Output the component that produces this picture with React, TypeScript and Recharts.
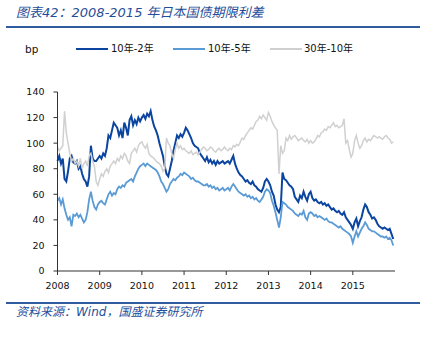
import { LineChart, Line, XAxis, YAxis } from "recharts";

// semi-monthly readings, 24 per year, 2008-2015
const years = [2008, 2009, 2010, 2011, 2012, 2013, 2014, 2015];

const spread10y2y = [
  86, 90, 84, 88, 72, 70, 78, 88, 90, 85, 84, 86, 80, 82, 76, 72, 70, 66, 74, 98, 88, 86, 86, 88,
  90, 88, 92, 90, 96, 106, 104, 110, 116, 114, 112, 106, 110, 104, 116, 112, 106, 118, 121, 114, 118, 115, 120, 117,
  120, 122, 119, 123, 121, 125, 118, 113, 110, 106, 100, 95, 90, 82, 76, 74, 80, 86, 94, 100, 106, 104, 107, 105,
  108, 112, 110, 107, 104, 100, 98, 97, 96, 92, 90, 88, 86, 89, 85, 87, 84, 86, 83, 86, 84, 85, 86, 84,
  85, 86, 84, 87, 90, 84, 80, 77, 75, 74, 72, 70, 71, 69, 68, 70, 67, 66, 64, 63, 62, 65, 70, 72,
  70, 67, 62, 59, 52, 48, 46, 50, 77, 72, 71, 69, 67, 66, 64, 58, 56, 54, 59, 57, 62, 58, 55, 60,
  62, 57, 55, 56, 54, 53, 54, 52, 53, 51, 52, 50, 48, 49, 47, 46, 47, 45, 44, 46, 42, 40, 38, 36,
  33, 38, 41, 35, 39, 42, 48, 52, 50, 46, 44, 41, 42, 40, 37, 35, 34, 33, 34, 33, 32, 33, 29, 25,
];

const spread10y5y = [
  55, 57, 52, 56, 49, 44, 40, 42, 35, 44, 43, 45, 42, 44, 41, 38, 40, 46, 56, 62, 55, 50, 48, 52,
  54, 55, 53, 52, 56, 60, 62, 59, 61, 60, 64, 66, 65, 67, 66, 69, 70, 71, 72, 70, 74, 77, 80, 82,
  83, 84, 82, 84, 83, 82, 81, 80, 79, 77, 74, 70, 68, 65, 62, 64, 68, 70, 72, 71, 73, 74, 76, 75,
  77, 76, 75, 74, 72, 73, 71, 70, 70, 69, 68, 67, 67, 68, 66, 67, 65, 66, 64, 65, 63, 64, 65, 63,
  64, 65, 63, 66, 68, 66, 64, 62, 61, 60, 59, 60, 58, 59, 57, 58, 56, 57, 55, 54, 56, 58, 62, 64,
  63, 61, 55, 51, 46, 40, 34, 42, 54, 53, 52, 50, 49, 48, 47, 45, 44, 43, 45, 44, 47, 42, 40, 45,
  46, 45, 43, 44, 42, 43, 42, 41, 40, 41, 39, 38, 38, 37, 36, 35, 34, 35, 33, 32, 31, 30, 29, 27,
  22, 27, 31, 27, 30, 33, 35, 38, 36, 33, 32, 31, 31, 30, 29, 28, 27, 27, 26, 27, 25, 26, 24, 20,
];

const spread30y10y = [
  97, 94, 96, 98, 125, 108, 100, 92, 86, 88, 84, 86, 82, 88, 80, 84, 86, 82, 90, 92, 86, 82, 70, 67,
  72, 76, 74, 78, 80, 77, 82, 84, 86, 84, 88, 86, 90, 88, 92, 90, 86, 84, 92, 94, 96, 93, 98, 100,
  101, 98, 96, 99, 92, 90, 89, 88, 86, 85, 84, 82, 78, 80, 104, 100, 98, 92, 88, 95, 100, 96, 98, 95,
  96, 94, 93, 92, 94, 91, 92, 93, 91, 93, 95, 97, 96, 94, 95, 97, 96, 94, 93, 95, 96, 94, 95, 97,
  95, 94, 96, 95, 98, 97, 99, 98, 101, 104, 103, 106, 108, 110, 112, 111, 114, 117, 118, 121, 119, 122, 120, 118,
  124, 121, 117, 114, 112, 110, 76, 98, 92, 94, 104, 102, 106, 103, 105, 106, 104, 102, 103, 104, 102, 101, 103, 100,
  102, 100, 101, 103, 106, 105, 108, 109, 111, 110, 113, 112, 114, 116, 113, 114, 112, 113, 114, 119, 100, 102, 95, 89,
  92, 102, 106, 100, 96, 98, 102, 104, 101, 103, 102, 104, 106, 105, 104, 105, 104, 103, 105, 106, 104, 103, 100, 101,
];

const yTicks = [0, 20, 40, 60, 80, 100, 120, 140];

const data = spread10y2y.map((v, i) => ({
  t: years[0] + i / 24,
  s2: v,
  s5: spread10y5y[i],
  s30: spread30y10y[i],
}));

const DARK = "#0b45a0";
const LIGHT = "#5b9bd5";
const GREY = "#d0d0d0";
const TITLE = "#1f4e9a";
const tickStyle = { fontSize: 9.5, fill: "#111", fontFamily: "DejaVu Sans" };

const legend = [
  { color: DARK, label: "10年-2年", x: 76, tx: 111 },
  { color: LIGHT, label: "10年-5年", x: 173, tx: 208 },
  { color: GREY, label: "30年-10年", x: 270, tx: 304 },
];

export default function App() {
  return (
    <div style={{ position: "absolute", left: 0, top: 0, width: 425, height: 337, background: "#fff", overflow: "hidden" }}>
      <div style={{
        position: "absolute", left: 16, top: 4, lineHeight: "18px", fontSize: 13,
        fontStyle: "italic", color: TITLE, fontFamily: "'DejaVu Sans', 'Noto Sans CJK SC'", whiteSpace: "nowrap",
      }}>
        图表42：2008-2015 年日本国债期限利差
      </div>
      <div style={{ position: "absolute", left: 6, top: 26, width: 414, height: 2, background: "#2e5c9e" }} />

      <div style={{ position: "absolute", left: 25, top: 41, lineHeight: "16px", fontSize: 10.5, color: "#111", fontFamily: "DejaVu Sans" }}>
        bp
      </div>
      {legend.map(({ color, label, x, tx }) => (
        <div key={label}>
          <div style={{ position: "absolute", left: x, top: 48, width: 32, height: 2, background: color }} />
          <div style={{
            position: "absolute", left: tx, top: 41, lineHeight: "16px", fontSize: 10, color: "#111",
            fontFamily: "'DejaVu Sans', 'Noto Sans CJK SC'", whiteSpace: "nowrap",
          }}>{label}</div>
        </div>
      ))}

      <div style={{ position: "absolute", left: 0, top: 0 }}>
        <LineChart width={425} height={337} data={data} margin={{ top: 92, right: 30, bottom: 36, left: 0 }}>
          <XAxis
            dataKey="t" type="number" domain={[2008, 2016]} ticks={years}
            tickFormatter={(v: number) => String(v)} height={30}
            tick={tickStyle} tickSize={4} tickMargin={7}
            axisLine={{ stroke: "#333" }} tickLine={{ stroke: "#333" }}
          />
          <YAxis
            domain={[0, 140]} ticks={yTicks} width={57.5}
            tick={tickStyle} tickSize={4} tickMargin={9}
            axisLine={{ stroke: "#333" }} tickLine={{ stroke: "#333" }}
          />
          <Line type="linear" dataKey="s2" stroke={DARK} strokeWidth={2} dot={false} isAnimationActive={false} />
          <Line type="linear" dataKey="s5" stroke={LIGHT} strokeWidth={1.8} dot={false} isAnimationActive={false} />
          <Line type="linear" dataKey="s30" stroke={GREY} strokeWidth={1.5} dot={false} isAnimationActive={false} />
        </LineChart>
      </div>

      <div style={{ position: "absolute", left: 6, top: 302, width: 414, height: 2, background: "#2e5c9e" }} />
      <div style={{
        position: "absolute", left: 16, top: 304, lineHeight: "17px", fontSize: 12,
        fontStyle: "italic", color: TITLE, fontFamily: "'DejaVu Sans', 'Noto Sans CJK SC'", whiteSpace: "nowrap",
      }}>
        资料来源：Wind，国盛证券研究所
      </div>
    </div>
  );
}
